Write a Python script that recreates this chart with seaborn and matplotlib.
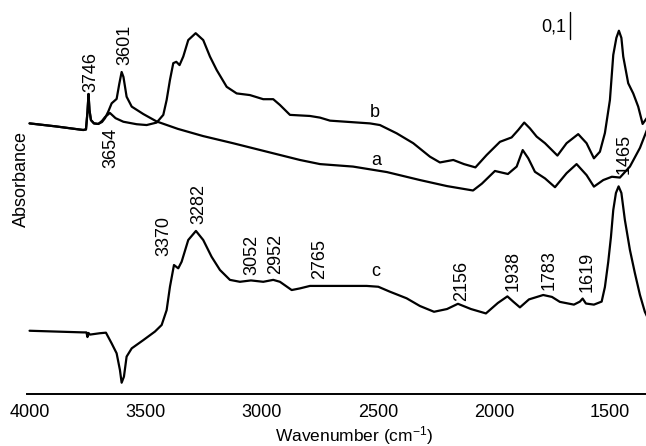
import matplotlib
matplotlib.use("Agg")
import matplotlib.pyplot as plt
import seaborn as sns
import pandas as pd

# Spectrum a: activated sample (wavenumber in cm-1, absorbance)
wn_a = [4000, 3886, 3769, 3757, 3750.6, 3746, 3742, 3735.6, 3722.6, 3704,
        3688, 3675, 3661, 3646.4, 3625, 3613.7, 3603.4, 3595.6, 3582, 3560,
        3510, 3452.6, 3361, 3253, 3124, 2977.6, 2835.5, 2749, 2607, 2461,
        2318.7, 2202, 2090, 2051.7, 1995.7, 1939.7, 1902, 1876, 1852, 1823.4,
        1780, 1737, 1687, 1644, 1601, 1569.3, 1529, 1491.8, 1457.4, 1414.3,
        1371, 1341]
abs_a = [0.984, 0.973, 0.960, 0.962, 1.025, 1.091, 1.033, 0.996, 0.984, 0.982,
         0.989, 1.003, 1.027, 1.057, 1.073, 1.127, 1.171, 1.153, 1.081, 1.045,
         1.018, 0.991, 0.964, 0.938, 0.912, 0.881, 0.851, 0.836, 0.827, 0.807,
         0.778, 0.756, 0.740, 0.765, 0.811, 0.800, 0.827, 0.887, 0.857, 0.808,
         0.784, 0.752, 0.803, 0.836, 0.796, 0.754, 0.778, 0.790, 0.787, 0.827,
         0.895, 0.960]

# Spectrum b: after adsorption
wn_b = [4000, 3886, 3769, 3757, 3750.6, 3746, 3742, 3735.6, 3722.6, 3704,
        3688, 3675, 3654, 3629.6, 3596, 3538.8, 3495.7, 3452.6, 3424, 3409.6,
        3395.3, 3381, 3368, 3354, 3338, 3316.5, 3284.6, 3252, 3223, 3194,
        3151, 3108, 3051, 2993.5, 2950.5, 2921.6, 2878.5, 2792.4, 2749, 2706,
        2534, 2491, 2419, 2347.5, 2275.6, 2232.6, 2175, 2129, 2079.7, 2031.4,
        1974, 1923.8, 1895.3, 1869.5, 1845, 1816, 1780, 1726.5, 1687, 1637,
        1601, 1569.3, 1543.5, 1522, 1500.4, 1486, 1472.6, 1461.7, 1451, 1443,
        1421.6, 1400, 1378.6, 1359.6, 1341]
abs_b = [0.984, 0.973, 0.960, 0.962, 1.025, 1.091, 1.033, 0.996, 0.984, 0.982,
         0.993, 1.007, 1.022, 1.003, 0.990, 0.981, 0.978, 0.987, 1.015, 1.069,
         1.142, 1.203, 1.208, 1.196, 1.227, 1.287, 1.312, 1.287, 1.227, 1.178,
         1.117, 1.093, 1.087, 1.072, 1.072, 1.051, 1.015, 1.011, 1.005, 0.994,
         0.984, 0.978, 0.948, 0.912, 0.863, 0.842, 0.851, 0.836, 0.824, 0.869,
         0.917, 0.933, 0.960, 0.987, 0.966, 0.936, 0.912, 0.867, 0.912, 0.945,
         0.912, 0.857, 0.881, 0.949, 1.069, 1.233, 1.295, 1.321, 1.295, 1.227,
         1.130, 1.093, 1.045, 0.982, 1.004]

# Spectrum c: difference b - a (offset)
wn_c = [4000, 3769, 3755, 3750.6, 3746, 3740, 3697, 3671, 3646.4, 3625,
        3610.7, 3603.4, 3593.5, 3582, 3560, 3510, 3460, 3431, 3409.6, 3395.3,
        3378, 3359.6, 3345, 3316.5, 3283.4, 3252, 3216, 3180, 3137, 3094,
        3046.5, 2993.5, 2950.5, 2921.6, 2871, 2835.5, 2792.4, 2706, 2548, 2498,
        2448, 2376, 2318.7, 2258, 2202, 2155, 2099, 2034.5, 1983, 1942,
        1917, 1888, 1849, 1787.7, 1750, 1716, 1655.5, 1629.6, 1618, 1603.8,
        1569.3, 1536, 1522, 1507.7, 1496, 1486, 1474.5, 1463, 1451, 1436,
        1414.3, 1393, 1371, 1350, 1337]
abs_c = [0.230, 0.224, 0.224, 0.207, 0.222, 0.216, 0.221, 0.223, 0.184, 0.148,
         0.087, 0.041, 0.063, 0.136, 0.166, 0.196, 0.227, 0.251, 0.305, 0.390,
         0.469, 0.457, 0.481, 0.560, 0.593, 0.560, 0.499, 0.451, 0.415, 0.408,
         0.413, 0.408, 0.415, 0.408, 0.378, 0.384, 0.393, 0.393, 0.393, 0.390,
         0.372, 0.348, 0.320, 0.299, 0.309, 0.328, 0.309, 0.293, 0.331, 0.355,
         0.336, 0.315, 0.344, 0.360, 0.353, 0.335, 0.325, 0.336, 0.347, 0.329,
         0.325, 0.336, 0.389, 0.480, 0.571, 0.669, 0.731, 0.755, 0.731, 0.633,
         0.524, 0.440, 0.360, 0.299, 0.276]

# Peak annotations: label, position (cm-1), absorbance of label end, pixel shift, side
peak_labels = ["3746", "3601", "3654", "3370", "3282", "3052", "2952", "2765",
               "2156", "1938", "1783", "1619", "1465"]
peak_wn = [3746, 3601, 3654, 3370, 3282, 3052, 2952, 2765, 2156, 1938, 1783, 1619, 1465]
peak_y = [1.099, 1.196, 0.968, 0.502, 0.618, 0.433, 0.436, 0.418, 0.339, 0.376,
          0.378, 0.370, 0.800]
peak_dx = [2, 2.7, 1, -11.7, 2.7, 2.4, 3, 3, 4, 5, 5, 4.5, 5.7]
peak_va = ["bottom", "bottom", "top"] + ["bottom"] * 10

curve_names = ["a", "b", "c"]
curve_name_wn = [2508, 2512, 2509]
curve_name_y = [0.850, 1.025, 0.445]

xticks = [4000, 3500, 3000, 2500, 2000, 1500]
scale_bar = 0.1

sns.set_style("white")
plt.rcParams["font.family"] = ["Liberation Sans", "DejaVu Sans"]
plt.rcParams["mathtext.fontset"] = "custom"
plt.rcParams["mathtext.rm"] = "Liberation Sans"
plt.rcParams["mathtext.it"] = "Liberation Sans:italic"
plt.rcParams["text.color"] = "black"
plt.rcParams["xtick.color"] = "black"
plt.rcParams["xtick.labelcolor"] = "black"

fig = plt.figure(figsize=(6.46, 4.46), dpi=100)
ax = fig.add_axes([27 / 646, 52 / 446, 619 / 646, 394 / 446])

for wn, ab in [(wn_a, abs_a), (wn_b, abs_b), (wn_c, abs_c)]:
    df = pd.DataFrame({"wn": wn, "A": ab})
    sns.lineplot(data=df, x="wn", y="A", ax=ax, color="black", linewidth=1.6,
                 sort=False, estimator=None)

ax.set_xlim(4011, 1345)
ax.set_ylim(0, 1.4327)
ax.set_xticks(xticks)
ax.set_xticklabels([str(t) for t in xticks])
ax.set_yticks([])
ax.set_xlabel("")
ax.set_ylabel("")
for side in ["left", "top", "right"]:
    ax.spines[side].set_visible(False)
ax.spines["bottom"].set_linewidth(1.4)
ax.spines["bottom"].set_color("black")
ax.tick_params(axis="x", direction="out", length=2.5, width=0.8, pad=5,
               labelsize=13, colors="black")

for lab, w, y, dx, va in zip(peak_labels, peak_wn, peak_y, peak_dx, peak_va):
    ax.annotate(lab, xy=(w, y), xytext=(dx, 0), textcoords="offset pixels",
                rotation=90, ha="center", va=va, fontsize=13, color="black")

for name, w, y in zip(curve_names, curve_name_wn, curve_name_y):
    ax.text(w, y, name, ha="center", va="center", fontsize=13, color="black")

# Absorbance scale bar
ax.plot([1673, 1673], [1.29, 1.29 + scale_bar], color="black", linewidth=1.0)
ax.text(1687, 1.336, "0,1", ha="right", va="center", fontsize=13, color="black")

fig.text(21.5 / 646, (446 - 179) / 446, "Absorbance", rotation=90,
         ha="center", va="center", fontsize=13, color="black")
fig.text(354 / 646, (446 - 441) / 446, "Wavenumber (cm$^{-1}$)",
         ha="center", va="baseline", fontsize=12.5, color="black")

fig.savefig("out.png", dpi=100)
